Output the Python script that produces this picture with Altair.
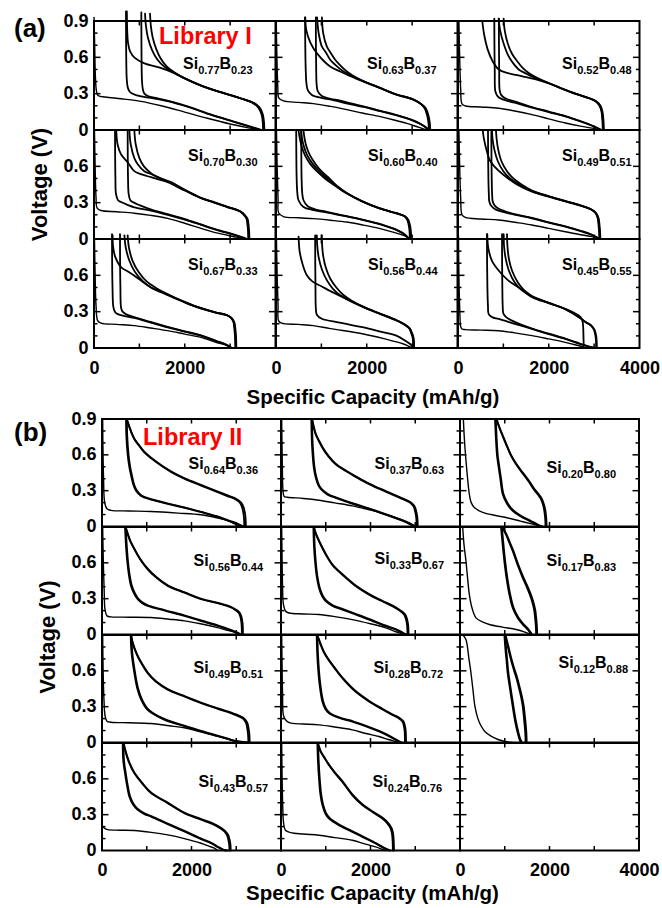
import altair as alt
import pandas as pd

# ---------------- labels / ticks ----------------
A_COMP = [("0.77", "0.23"), ("0.63", "0.37"), ("0.52", "0.48"),
          ("0.70", "0.30"), ("0.60", "0.40"), ("0.49", "0.51"),
          ("0.67", "0.33"), ("0.56", "0.44"), ("0.45", "0.55")]
B_COMP = [("0.64", "0.36"), ("0.37", "0.63"), ("0.20", "0.80"),
          ("0.56", "0.44"), ("0.33", "0.67"), ("0.17", "0.83"),
          ("0.49", "0.51"), ("0.28", "0.72"), ("0.12", "0.88"),
          ("0.43", "0.57"), ("0.24", "0.76"), None]
X_TICKS = [1000, 2000, 3000]
Y_MAJOR_TICKS = [0.3, 0.6]
Y_MINOR_TICKS = [0.1, 0.2, 0.4, 0.5, 0.7, 0.8]
X_LABELS = [0, 2000]
X_LABELS_LAST = [0, 2000, 4000]
Y_LABELS_TOP = [0, 0.3, 0.6, 0.9]
Y_LABELS = [0, 0.3, 0.6]

# ---------------- Library I curves (capacity mAh/g, voltage V) ----------------
A1 = {
    "D1": [(0, 0.93), (15, 0.7), (30, 0.45), (55, 0.32), (90, 0.285), (250, 0.272), (600, 0.258), (1000, 0.238), (1480, 0.2), (2000, 0.148), (2500, 0.097), (3000, 0.05), (3400, 0.018), (3600, 0.004), (3680, 0)],
    "D2": [(705, 0.98), (707, 0.75), (712, 0.55), (722, 0.42), (745, 0.35), (800, 0.31), (950, 0.285), (1200, 0.268), (1620, 0.238), (2060, 0.192), (2600, 0.122), (3100, 0.065), (3450, 0.025), (3650, 0.003), (3700, 0)],
    "D3": [(1043, 0.97), (1045, 0.75), (1049, 0.55), (1056, 0.42), (1075, 0.34), (1110, 0.3), (1200, 0.278), (1400, 0.262), (1620, 0.242), (2060, 0.195), (2600, 0.125), (3100, 0.068), (3450, 0.028), (3660, 0.004), (3720, 0)],
    "C1": [(3754, 0), (3748, 0.06), (3720, 0.13), (3650, 0.185), (3530, 0.222), (3240, 0.26), (2800, 0.31), (2400, 0.36), (2000, 0.425), (1770, 0.47), (1450, 0.515), (1110, 0.55), (900, 0.595), (800, 0.645), (750, 0.72), (732, 0.82), (724, 0.98)],
    "C2": [(3740, 0), (3734, 0.06), (3706, 0.13), (3636, 0.185), (3518, 0.222), (3230, 0.262), (2790, 0.312), (2390, 0.362), (1990, 0.428), (1750, 0.475), (1560, 0.52), (1400, 0.58), (1280, 0.66), (1190, 0.76), (1145, 0.86), (1125, 0.96)],
    "C3": [(3725, 0), (3720, 0.06), (3692, 0.13), (3622, 0.185), (3505, 0.222), (3220, 0.263), (2780, 0.314), (2380, 0.364), (1980, 0.43), (1760, 0.478), (1600, 0.525), (1470, 0.59), (1370, 0.67), (1290, 0.77), (1250, 0.87), (1235, 0.96)],
}
A2 = {
    "D1": [(5, 0.9), (20, 0.6), (40, 0.35), (60, 0.265), (165, 0.24), (500, 0.228), (826, 0.218), (1200, 0.195), (1561, 0.168), (1900, 0.14), (2296, 0.11), (2600, 0.083), (2883, 0.055), (3150, 0.022), (3300, 0.004), (3360, 0)],
    "D2": [(640, 0.93), (645, 0.7), (655, 0.5), (672, 0.38), (700, 0.33), (790, 0.29), (1000, 0.265), (1194, 0.252), (1500, 0.225), (1928, 0.19), (2300, 0.155), (2663, 0.12), (3000, 0.08), (3200, 0.045), (3324, 0.014), (3350, 0)],
    "D3": [(878, 0.93), (880, 0.7), (886, 0.5), (895, 0.38), (920, 0.32), (1010, 0.28), (1200, 0.258), (1414, 0.243), (1700, 0.215), (1928, 0.195), (2300, 0.158), (2663, 0.123), (3000, 0.083), (3200, 0.048), (3330, 0.015), (3370, 0)],
    "C1": [(3400, 0), (3390, 0.055), (3360, 0.12), (3300, 0.18), (3200, 0.215), (3030, 0.25), (2663, 0.29), (2300, 0.345), (1928, 0.4), (1600, 0.45), (1414, 0.483), (1194, 0.524), (900, 0.635), (760, 0.72), (670, 0.82), (645, 0.93)],
    "C2": [(3385, 0), (3376, 0.055), (3346, 0.12), (3288, 0.18), (3190, 0.217), (3020, 0.253), (2655, 0.293), (2290, 0.348), (1920, 0.404), (1650, 0.45), (1487, 0.483), (1300, 0.54), (1194, 0.58), (1100, 0.64), (1010, 0.69), (940, 0.8), (905, 0.93)],
    "C3": [(3370, 0), (3362, 0.055), (3332, 0.12), (3276, 0.18), (3180, 0.218), (3010, 0.255), (2647, 0.295), (2282, 0.35), (1912, 0.407), (1680, 0.452), (1561, 0.483), (1400, 0.54), (1304, 0.58), (1200, 0.64), (1120, 0.69), (1040, 0.8), (1012, 0.93)],
}
A3 = {
    "D1": [(20, 0.9), (40, 0.55), (60, 0.33), (88, 0.215), (162, 0.198), (500, 0.19), (896, 0.18), (1250, 0.157), (1631, 0.127), (2000, 0.092), (2365, 0.058), (2700, 0.032), (2953, 0.015), (3120, 0.003), (3170, 0)],
    "D2": [(800, 0.92), (803, 0.7), (810, 0.48), (823, 0.32), (870, 0.28), (970, 0.255), (1250, 0.225), (1631, 0.185), (2000, 0.148), (2365, 0.112), (2700, 0.07), (2953, 0.035), (3100, 0.01), (3140, 0)],
    "D3": [(900, 0.92), (903, 0.7), (908, 0.48), (918, 0.33), (950, 0.29), (1050, 0.26), (1300, 0.23), (1631, 0.19), (2000, 0.152), (2365, 0.115), (2700, 0.073), (2953, 0.037), (3110, 0.01), (3160, 0)],
    "C1": [(3215, 0), (3208, 0.07), (3185, 0.15), (3140, 0.2), (3050, 0.235), (2900, 0.26), (2500, 0.31), (2000, 0.385), (1700, 0.42), (1400, 0.445), (1100, 0.47), (900, 0.5), (760, 0.57), (650, 0.67), (580, 0.78), (535, 0.9)],
    "C2": [(3200, 0), (3193, 0.07), (3172, 0.15), (3128, 0.2), (3040, 0.237), (2890, 0.262), (2490, 0.313), (1990, 0.388), (1700, 0.43), (1480, 0.47), (1337, 0.5), (1200, 0.56), (1100, 0.62), (1000, 0.72), (930, 0.82), (896, 0.92)],
    "C3": [(3190, 0), (3184, 0.07), (3163, 0.15), (3120, 0.2), (3032, 0.238), (2882, 0.264), (2482, 0.315), (1985, 0.39), (1720, 0.435), (1560, 0.47), (1430, 0.51), (1300, 0.57), (1190, 0.63), (1100, 0.71), (1030, 0.82), (1006, 0.92)],
}
A4 = {
    "D1": [(10, 0.9), (25, 0.6), (44, 0.35), (70, 0.255), (154, 0.235), (500, 0.225), (889, 0.213), (1250, 0.195), (1623, 0.17), (2000, 0.13), (2358, 0.088), (2700, 0.05), (3093, 0.019), (3300, 0.004), (3386, 0)],
    "D2": [(463, 0.9), (466, 0.7), (472, 0.5), (485, 0.37), (530, 0.32), (595, 0.305), (750, 0.28), (889, 0.262), (1250, 0.235), (1623, 0.2), (2000, 0.16), (2358, 0.117), (2700, 0.075), (3093, 0.033), (3300, 0.008), (3350, 0)],
    "D3": [(742, 0.9), (744, 0.7), (750, 0.5), (764, 0.37), (800, 0.32), (852, 0.305), (1000, 0.28), (1250, 0.245), (1623, 0.205), (2000, 0.165), (2358, 0.12), (2700, 0.078), (3093, 0.036), (3310, 0.009), (3370, 0)],
    "C1": [(3425, 0), (3420, 0.06), (3405, 0.12), (3386, 0.165), (3320, 0.2), (3240, 0.225), (3100, 0.245), (2946, 0.262), (2650, 0.3), (2358, 0.337), (2000, 0.4), (1623, 0.47), (1256, 0.51), (1000, 0.54), (889, 0.56), (750, 0.63), (595, 0.7), (520, 0.78), (490, 0.9)],
    "C2": [(3410, 0), (3405, 0.06), (3390, 0.12), (3372, 0.165), (3308, 0.2), (3230, 0.227), (3090, 0.248), (2936, 0.265), (2640, 0.303), (2350, 0.34), (1990, 0.405), (1623, 0.475), (1300, 0.53), (1109, 0.56), (960, 0.62), (889, 0.668), (810, 0.78), (779, 0.9)],
    "C3": [(3400, 0), (3396, 0.06), (3381, 0.12), (3363, 0.165), (3298, 0.2), (3220, 0.228), (3080, 0.25), (2928, 0.268), (2632, 0.306), (2342, 0.343), (1985, 0.41), (1700, 0.47), (1400, 0.51), (1256, 0.544), (1100, 0.6), (1000, 0.668), (920, 0.78), (889, 0.9)],
}
A5 = {
    "D1": [(10, 0.9), (25, 0.6), (45, 0.33), (60, 0.215), (165, 0.185), (500, 0.175), (826, 0.168), (1200, 0.155), (1561, 0.14), (1928, 0.115), (2296, 0.086), (2600, 0.055), (2810, 0.03), (2930, 0.008), (2957, 0)],
    "D2": [(445, 0.9), (448, 0.7), (455, 0.5), (470, 0.38), (496, 0.32), (606, 0.265), (800, 0.24), (1047, 0.224), (1500, 0.19), (1928, 0.155), (2300, 0.12), (2663, 0.072), (2850, 0.03), (2920, 0)],
    "D3": [(555, 0.9), (558, 0.7), (564, 0.5), (578, 0.38), (606, 0.32), (700, 0.27), (900, 0.24), (1100, 0.226), (1500, 0.193), (1928, 0.158), (2300, 0.123), (2663, 0.075), (2860, 0.032), (2940, 0)],
    "C1": [(2980, 0), (2975, 0.05), (2960, 0.1), (2920, 0.155), (2850, 0.185), (2663, 0.21), (2296, 0.25), (1900, 0.31), (1561, 0.375), (1300, 0.44), (1047, 0.51), (900, 0.56), (753, 0.62), (640, 0.69), (570, 0.76), (520, 0.84), (496, 0.9)],
    "C2": [(2965, 0), (2960, 0.05), (2946, 0.1), (2906, 0.157), (2838, 0.188), (2652, 0.213), (2285, 0.253), (1890, 0.313), (1561, 0.378), (1320, 0.44), (1100, 0.51), (950, 0.56), (810, 0.62), (690, 0.69), (610, 0.77), (570, 0.84), (555, 0.9)],
    "C3": [(2950, 0), (2945, 0.05), (2932, 0.1), (2892, 0.158), (2825, 0.19), (2640, 0.215), (2275, 0.255), (1880, 0.315), (1561, 0.38), (1340, 0.44), (1150, 0.51), (1000, 0.56), (870, 0.62), (750, 0.69), (665, 0.77), (625, 0.84), (606, 0.9)],
}
A6 = {
    "D1": [(20, 0.9), (40, 0.55), (60, 0.33), (88, 0.2), (162, 0.178), (500, 0.165), (896, 0.157), (1250, 0.138), (1631, 0.116), (2000, 0.088), (2365, 0.06), (2700, 0.035), (2953, 0.019), (3040, 0.005), (3063, 0)],
    "D2": [(661, 0.9), (664, 0.7), (670, 0.5), (680, 0.37), (690, 0.31), (740, 0.27), (823, 0.245), (1200, 0.205), (1631, 0.171), (2000, 0.135), (2365, 0.102), (2700, 0.065), (2953, 0.033), (3080, 0.008), (3100, 0)],
    "D3": [(735, 0.9), (737, 0.7), (743, 0.5), (752, 0.37), (765, 0.31), (810, 0.275), (900, 0.25), (1200, 0.21), (1631, 0.175), (2000, 0.138), (2365, 0.105), (2700, 0.068), (2953, 0.035), (3090, 0.008), (3120, 0)],
    "C1": [(3137, 0), (3133, 0.05), (3120, 0.11), (3100, 0.17), (3050, 0.21), (2953, 0.24), (2700, 0.275), (2365, 0.31), (2000, 0.35), (1631, 0.39), (1300, 0.45), (1000, 0.53), (800, 0.6), (700, 0.65), (639, 0.72), (575, 0.82), (544, 0.9)],
    "C2": [(3125, 0), (3121, 0.05), (3108, 0.11), (3088, 0.172), (3040, 0.213), (2943, 0.243), (2690, 0.278), (2355, 0.313), (1990, 0.353), (1631, 0.395), (1350, 0.45), (1150, 0.5), (1000, 0.56), (880, 0.64), (800, 0.74), (760, 0.83), (749, 0.9)],
    "C3": [(3115, 0), (3111, 0.05), (3098, 0.11), (3078, 0.173), (3030, 0.215), (2933, 0.245), (2680, 0.28), (2345, 0.316), (1980, 0.356), (1631, 0.4), (1400, 0.45), (1220, 0.5), (1080, 0.56), (960, 0.64), (885, 0.74), (850, 0.83), (837, 0.9)],
}
A7 = {
    "D1": [(10, 0.9), (25, 0.6), (45, 0.35), (81, 0.226), (154, 0.205), (500, 0.195), (889, 0.185), (1250, 0.165), (1623, 0.143), (2000, 0.115), (2358, 0.088), (2700, 0.045), (2946, 0.019), (3000, 0.005), (3019, 0)],
    "D2": [(397, 0.94), (400, 0.7), (408, 0.5), (426, 0.34), (460, 0.3), (522, 0.28), (700, 0.262), (889, 0.248), (1250, 0.21), (1623, 0.171), (2000, 0.135), (2358, 0.102), (2700, 0.055), (2872, 0.033), (2980, 0.01), (3019, 0)],
    "D3": [(573, 0.94), (575, 0.7), (582, 0.5), (598, 0.33), (630, 0.3), (700, 0.28), (889, 0.255), (1250, 0.215), (1623, 0.175), (2000, 0.138), (2358, 0.105), (2700, 0.058), (2880, 0.034), (3000, 0.01), (3040, 0)],
    "C1": [(3137, 0), (3134, 0.05), (3130, 0.09), (3118, 0.15), (3093, 0.212), (3040, 0.245), (2946, 0.268), (2700, 0.29), (2504, 0.31), (2250, 0.34), (1990, 0.378), (1600, 0.44), (1256, 0.5), (1036, 0.557), (800, 0.62), (595, 0.668), (470, 0.75), (420, 0.84), (410, 0.93)],
    "C2": [(3125, 0), (3122, 0.05), (3118, 0.09), (3106, 0.15), (3082, 0.214), (3030, 0.247), (2936, 0.27), (2690, 0.293), (2494, 0.313), (2240, 0.343), (1980, 0.382), (1600, 0.445), (1256, 0.5), (1080, 0.55), (900, 0.63), (780, 0.72), (700, 0.83), (670, 0.93)],
    "C3": [(3115, 0), (3112, 0.05), (3108, 0.09), (3096, 0.15), (3072, 0.215), (3020, 0.248), (2926, 0.272), (2680, 0.295), (2484, 0.315), (2230, 0.345), (1970, 0.385), (1650, 0.44), (1350, 0.5), (1160, 0.55), (980, 0.63), (850, 0.72), (770, 0.83), (742, 0.93)],
}
A8 = {
    "D1": [(10, 0.9), (25, 0.6), (45, 0.35), (55, 0.226), (120, 0.205), (500, 0.195), (826, 0.185), (1200, 0.16), (1928, 0.116), (2400, 0.075), (2810, 0.033), (2960, 0.008), (2994, 0)],
    "D2": [(863, 0.93), (865, 0.7), (870, 0.5), (878, 0.33), (900, 0.275), (1010, 0.242), (1400, 0.21), (1928, 0.17), (2300, 0.135), (2663, 0.1), (2850, 0.06), (2957, 0.033), (3010, 0.008), (3030, 0)],
    "C1": [(3045, 0), (3042, 0.04), (3030, 0.088), (2990, 0.13), (2957, 0.157), (2850, 0.19), (2663, 0.226), (2300, 0.28), (1928, 0.337), (1650, 0.385), (1414, 0.43), (1200, 0.47), (1000, 0.51), (800, 0.55), (680, 0.6), (580, 0.7), (520, 0.8), (498, 0.92)],
    "C2": [(3035, 0), (3032, 0.04), (3020, 0.088), (2980, 0.132), (2947, 0.16), (2840, 0.193), (2653, 0.229), (2290, 0.283), (1918, 0.34), (1640, 0.39), (1414, 0.435), (1250, 0.49), (1120, 0.56), (1010, 0.65), (940, 0.75), (908, 0.85), (900, 0.93)],
    "C3": [(3025, 0), (3022, 0.04), (3010, 0.088), (2970, 0.133), (2937, 0.162), (2830, 0.195), (2643, 0.231), (2280, 0.286), (1910, 0.344), (1660, 0.393), (1480, 0.44), (1330, 0.5), (1200, 0.57), (1100, 0.66), (1040, 0.76), (1015, 0.86), (1010, 0.93)],
}
A9 = {
    "D1": [(10, 0.93), (20, 0.6), (40, 0.3), (60, 0.175), (88, 0.157), (162, 0.152), (500, 0.148), (896, 0.143), (1250, 0.125), (1631, 0.102), (2000, 0.075), (2365, 0.047), (2600, 0.025), (2740, 0.01), (2770, 0)],
    "D2": [(639, 0.94), (641, 0.7), (648, 0.5), (660, 0.35), (676, 0.28), (750, 0.255), (896, 0.24), (1250, 0.2), (1631, 0.157), (2000, 0.115), (2365, 0.075), (2600, 0.045), (2806, 0.019), (2950, 0.005), (3026, 0)],
    "D3": [(970, 0.94), (972, 0.7), (977, 0.5), (985, 0.35), (1000, 0.285), (1060, 0.255), (1190, 0.226), (1631, 0.16), (2000, 0.118), (2365, 0.078), (2600, 0.048), (2806, 0.021), (2960, 0.005), (3040, 0)],
    "C1": [(2770, 0), (2768, 0.05), (2765, 0.1), (2760, 0.16), (2745, 0.22), (2700, 0.255), (2659, 0.268), (2365, 0.323), (2000, 0.37), (1631, 0.42), (1337, 0.5), (1100, 0.56), (896, 0.64), (749, 0.72), (670, 0.82), (645, 0.94)],
    "C2": [(3060, 0), (3057, 0.05), (3045, 0.1), (3010, 0.15), (2940, 0.185), (2806, 0.215), (2700, 0.245), (2365, 0.32), (2000, 0.372), (1631, 0.425), (1400, 0.48), (1250, 0.54), (1120, 0.64), (1050, 0.74), (1015, 0.84), (1006, 0.94)],
    "C3": [(3045, 0), (3042, 0.05), (3030, 0.1), (2995, 0.152), (2925, 0.188), (2796, 0.218), (2690, 0.248), (2355, 0.323), (1990, 0.375), (1631, 0.43), (1450, 0.48), (1320, 0.54), (1190, 0.64), (1120, 0.74), (1090, 0.84), (1080, 0.94)],
}

# ---------------- Library II curves ----------------
B1 = {
    "D1": [(15, 0.9), (20, 0.7), (35, 0.4), (60, 0.2), (112, 0.148), (200, 0.135), (600, 0.13), (1095, 0.125), (1700, 0.112), (2213, 0.098), (2600, 0.07), (2809, 0.05), (2950, 0.025), (3069, 0.008), (3100, 0)],
    "D2": [(536, 0.9), (545, 0.75), (574, 0.6), (610, 0.5), (648, 0.43), (700, 0.35), (760, 0.3), (872, 0.256), (1100, 0.225), (1468, 0.19), (1850, 0.155), (2213, 0.12), (2550, 0.085), (2809, 0.05), (2990, 0.025), (3080, 0.008), (3120, 0)],
    "D3": [(556, 0.9), (565, 0.75), (594, 0.6), (630, 0.5), (668, 0.43), (720, 0.35), (780, 0.302), (892, 0.258), (1120, 0.227), (1480, 0.192), (1860, 0.157), (2223, 0.122), (2560, 0.087), (2820, 0.052), (3010, 0.027), (3120, 0.008), (3165, 0)],
    "C1": [(3180, 0), (3176, 0.05), (3165, 0.1), (3130, 0.16), (3080, 0.2), (2958, 0.232), (2800, 0.255), (2585, 0.287), (2200, 0.345), (1840, 0.4), (1550, 0.455), (1319, 0.51), (1100, 0.57), (946, 0.62), (820, 0.68), (723, 0.73), (640, 0.8), (574, 0.87), (548, 0.9)],
    "C2": [(3215, 0), (3211, 0.05), (3200, 0.1), (3165, 0.16), (3110, 0.2), (2985, 0.234), (2825, 0.258), (2605, 0.29), (2215, 0.348), (1850, 0.403), (1560, 0.458), (1327, 0.513), (1106, 0.573), (950, 0.624), (824, 0.684), (727, 0.734), (645, 0.804), (580, 0.872), (556, 0.9)],
}
B2 = {
    "D1": [(15, 0.9), (20, 0.75), (30, 0.5), (45, 0.3), (70, 0.252), (142, 0.245), (500, 0.235), (849, 0.22), (1200, 0.198), (1594, 0.173), (1967, 0.14), (2339, 0.103), (2600, 0.07), (2861, 0.033), (2960, 0.01), (3010, 0)],
    "D2": [(678, 0.9), (685, 0.75), (700, 0.632), (730, 0.5), (775, 0.41), (840, 0.34), (924, 0.3), (1050, 0.265), (1222, 0.24), (1600, 0.19), (1967, 0.148), (2350, 0.098), (2712, 0.048), (2900, 0.015), (2973, 0)],
    "D3": [(695, 0.9), (702, 0.75), (718, 0.632), (748, 0.5), (793, 0.41), (858, 0.34), (942, 0.302), (1068, 0.268), (1240, 0.243), (1615, 0.193), (1980, 0.15), (2360, 0.1), (2722, 0.05), (2920, 0.016), (3000, 0)],
    "C1": [(3030, 0), (3028, 0.04), (3020, 0.08), (2995, 0.13), (2960, 0.17), (2880, 0.2), (2712, 0.23), (2350, 0.29), (1967, 0.355), (1600, 0.43), (1222, 0.52), (1050, 0.59), (924, 0.66), (840, 0.72), (775, 0.77), (730, 0.83), (700, 0.88), (690, 0.9)],
    "C2": [(3055, 0), (3053, 0.04), (3045, 0.08), (3020, 0.13), (2985, 0.17), (2905, 0.202), (2730, 0.233), (2365, 0.293), (1980, 0.358), (1610, 0.433), (1230, 0.523), (1058, 0.593), (930, 0.663), (845, 0.723), (780, 0.773), (735, 0.833), (706, 0.883), (698, 0.9)],
}
B3 = {
    "D1": [(75, 0.9), (100, 0.72), (134, 0.55), (170, 0.4), (209, 0.27), (250, 0.2), (320, 0.16), (507, 0.118), (800, 0.092), (1028, 0.075), (1350, 0.045), (1624, 0.02), (1780, 0.005), (1848, 0)],
    "D2": [(782, 0.9), (800, 0.75), (825, 0.6), (842, 0.55), (900, 0.4), (954, 0.27), (1050, 0.19), (1177, 0.131), (1350, 0.085), (1550, 0.047), (1720, 0.015), (1810, 0)],
    "D3": [(800, 0.9), (818, 0.75), (843, 0.6), (860, 0.55), (918, 0.4), (972, 0.272), (1068, 0.193), (1195, 0.134), (1368, 0.088), (1568, 0.05), (1740, 0.017), (1835, 0)],
    "C1": [(1910, 0), (1908, 0.04), (1900, 0.08), (1880, 0.14), (1848, 0.19), (1800, 0.235), (1736, 0.27), (1650, 0.31), (1550, 0.368), (1400, 0.445), (1252, 0.521), (1130, 0.6), (1028, 0.688), (950, 0.76), (879, 0.827), (830, 0.88), (815, 0.9)],
    "C2": [(1935, 0), (1933, 0.04), (1925, 0.08), (1905, 0.14), (1872, 0.19), (1822, 0.237), (1756, 0.272), (1668, 0.312), (1565, 0.37), (1412, 0.447), (1262, 0.523), (1138, 0.602), (1035, 0.69), (956, 0.762), (884, 0.829), (836, 0.882), (822, 0.9)],
}
B4 = {
    "D1": [(15, 0.9), (30, 0.6), (50, 0.35), (67, 0.21), (112, 0.156), (200, 0.148), (600, 0.145), (1095, 0.142), (1500, 0.128), (1840, 0.114), (2200, 0.09), (2585, 0.058), (2800, 0.035), (2958, 0.022), (3050, 0.005), (3069, 0)],
    "D2": [(514, 0.9), (530, 0.78), (559, 0.63), (600, 0.5), (648, 0.407), (720, 0.34), (797, 0.295), (900, 0.262), (1020, 0.24), (1400, 0.2), (1840, 0.156), (2200, 0.115), (2585, 0.072), (2800, 0.045), (2958, 0.022), (3050, 0.005), (3080, 0)],
    "D3": [(532, 0.9), (548, 0.78), (577, 0.63), (618, 0.5), (666, 0.41), (738, 0.343), (815, 0.298), (918, 0.265), (1038, 0.243), (1418, 0.203), (1855, 0.159), (2215, 0.118), (2600, 0.075), (2815, 0.048), (2975, 0.024), (3080, 0.006), (3110, 0)],
    "C1": [(3125, 0), (3123, 0.05), (3115, 0.1), (3090, 0.15), (3047, 0.184), (2960, 0.21), (2883, 0.226), (2600, 0.26), (2213, 0.295), (1840, 0.35), (1468, 0.407), (1200, 0.48), (1020, 0.546), (850, 0.63), (723, 0.713), (620, 0.79), (574, 0.839), (530, 0.89)],
    "C2": [(3150, 0), (3148, 0.05), (3140, 0.1), (3115, 0.15), (3070, 0.186), (2980, 0.212), (2900, 0.228), (2615, 0.262), (2225, 0.298), (1850, 0.353), (1478, 0.41), (1208, 0.483), (1027, 0.549), (856, 0.633), (728, 0.716), (625, 0.793), (580, 0.842), (538, 0.89)],
}
B5 = {
    "D1": [(15, 0.9), (22, 0.7), (35, 0.4), (55, 0.25), (104, 0.195), (179, 0.18), (500, 0.172), (849, 0.167), (1200, 0.15), (1594, 0.125), (2000, 0.09), (2339, 0.056), (2550, 0.025), (2712, 0.006), (2749, 0)],
    "D2": [(723, 0.9), (735, 0.75), (760, 0.613), (800, 0.48), (849, 0.39), (920, 0.32), (998, 0.28), (1150, 0.24), (1371, 0.209), (1650, 0.17), (1967, 0.125), (2300, 0.075), (2563, 0.042), (2720, 0.012), (2786, 0)],
    "D3": [(740, 0.9), (752, 0.75), (777, 0.613), (817, 0.48), (866, 0.392), (937, 0.323), (1015, 0.283), (1168, 0.243), (1388, 0.212), (1665, 0.173), (1980, 0.128), (2312, 0.078), (2575, 0.044), (2735, 0.013), (2810, 0)],
    "C1": [(2825, 0), (2823, 0.04), (2815, 0.084), (2790, 0.13), (2749, 0.167), (2650, 0.2), (2488, 0.237), (2250, 0.28), (1967, 0.334), (1650, 0.41), (1371, 0.5), (1150, 0.58), (998, 0.67), (900, 0.74), (812, 0.81), (760, 0.86), (738, 0.89)],
    "C2": [(2850, 0), (2848, 0.04), (2840, 0.084), (2815, 0.132), (2772, 0.169), (2670, 0.202), (2505, 0.24), (2265, 0.283), (1980, 0.337), (1662, 0.413), (1380, 0.503), (1158, 0.583), (1005, 0.673), (906, 0.743), (818, 0.813), (766, 0.862), (745, 0.89)],
}
B6 = {
    "D1": [(60, 0.9), (90, 0.75), (134, 0.613), (170, 0.47), (209, 0.334), (270, 0.22), (358, 0.139), (500, 0.105), (656, 0.084), (950, 0.062), (1252, 0.042), (1450, 0.02), (1587, 0)],
    "D2": [(916, 0.9), (940, 0.8), (991, 0.613), (1040, 0.47), (1103, 0.334), (1180, 0.22), (1289, 0.139), (1400, 0.085), (1512, 0.042), (1570, 0.012), (1587, 0)],
    "D3": [(936, 0.9), (960, 0.8), (1010, 0.613), (1060, 0.47), (1122, 0.336), (1198, 0.223), (1305, 0.142), (1418, 0.088), (1530, 0.044), (1590, 0.013), (1610, 0)],
    "C1": [(1700, 0), (1698, 0.04), (1690, 0.09), (1675, 0.15), (1661, 0.195), (1630, 0.25), (1587, 0.306), (1500, 0.39), (1401, 0.474), (1290, 0.58), (1177, 0.7), (1100, 0.77), (1028, 0.836), (970, 0.88), (954, 0.9)],
    "C2": [(1725, 0), (1723, 0.04), (1715, 0.09), (1700, 0.15), (1686, 0.197), (1654, 0.252), (1610, 0.308), (1522, 0.392), (1420, 0.476), (1306, 0.582), (1192, 0.702), (1114, 0.772), (1040, 0.838), (980, 0.882), (963, 0.9)],
}
B7 = {
    "D1": [(15, 0.9), (25, 0.6), (45, 0.35), (70, 0.22), (112, 0.178), (200, 0.17), (600, 0.165), (1095, 0.159), (1500, 0.14), (1840, 0.123), (2200, 0.09), (2585, 0.053), (2800, 0.03), (2958, 0.011), (2995, 0)],
    "D2": [(640, 0.9), (660, 0.75), (723, 0.58), (790, 0.45), (872, 0.36), (980, 0.29), (1095, 0.25), (1400, 0.19), (1840, 0.137), (2200, 0.095), (2585, 0.053), (2800, 0.03), (2958, 0.013), (3150, 0.003), (3230, 0)],
    "D3": [(658, 0.9), (678, 0.75), (741, 0.58), (808, 0.452), (890, 0.363), (998, 0.293), (1113, 0.253), (1418, 0.193), (1855, 0.14), (2215, 0.098), (2600, 0.056), (2815, 0.032), (2975, 0.014), (3180, 0.003), (3265, 0)],
    "C1": [(3270, 0), (3268, 0.04), (3260, 0.08), (3240, 0.13), (3218, 0.164), (3150, 0.2), (2958, 0.234), (2600, 0.28), (2213, 0.33), (1840, 0.385), (1468, 0.443), (1200, 0.51), (1020, 0.58), (900, 0.65), (797, 0.72), (720, 0.79), (663, 0.86), (645, 0.9)],
    "C2": [(3300, 0), (3298, 0.04), (3290, 0.08), (3270, 0.13), (3246, 0.166), (3175, 0.202), (2980, 0.237), (2615, 0.283), (2225, 0.333), (1850, 0.388), (1478, 0.446), (1208, 0.513), (1027, 0.583), (906, 0.653), (803, 0.723), (726, 0.793), (669, 0.862), (652, 0.9)],
}
B8 = {
    "D1": [(15, 0.9), (22, 0.7), (35, 0.4), (60, 0.22), (142, 0.175), (253, 0.16), (500, 0.155), (849, 0.148), (1200, 0.13), (1594, 0.106), (1900, 0.075), (2190, 0.05), (2400, 0.025), (2563, 0.008), (2637, 0)],
    "D2": [(797, 0.9), (808, 0.75), (834, 0.59), (870, 0.46), (924, 0.343), (990, 0.28), (1073, 0.245), (1300, 0.205), (1594, 0.175), (1900, 0.135), (2190, 0.092), (2400, 0.055), (2563, 0.022), (2640, 0.005), (2675, 0)],
    "D3": [(815, 0.9), (826, 0.75), (852, 0.59), (888, 0.462), (942, 0.346), (1008, 0.283), (1091, 0.248), (1318, 0.208), (1610, 0.178), (1915, 0.138), (2205, 0.095), (2415, 0.058), (2578, 0.024), (2660, 0.006), (2700, 0)],
    "C1": [(2770, 0), (2768, 0.04), (2764, 0.092), (2745, 0.14), (2712, 0.175), (2620, 0.205), (2488, 0.23), (2250, 0.28), (1967, 0.343), (1650, 0.43), (1371, 0.538), (1200, 0.62), (1036, 0.705), (950, 0.76), (887, 0.816), (835, 0.87), (812, 0.886)],
    "C2": [(2795, 0), (2793, 0.04), (2788, 0.092), (2768, 0.142), (2735, 0.177), (2642, 0.207), (2508, 0.233), (2265, 0.283), (1980, 0.346), (1662, 0.433), (1380, 0.541), (1208, 0.623), (1043, 0.708), (956, 0.763), (892, 0.819), (840, 0.872), (818, 0.889)],
}
B9 = {
    "D1": [(67, 0.9), (134, 0.86), (200, 0.7), (246, 0.58), (290, 0.44), (335, 0.3), (400, 0.2), (469, 0.14), (560, 0.09), (693, 0.053), (850, 0.025), (991, 0.011), (1100, 0.003), (1177, 0)],
    "D2": [(991, 0.9), (1010, 0.8), (1040, 0.68), (1065, 0.58), (1120, 0.44), (1177, 0.3), (1230, 0.18), (1289, 0.08), (1330, 0.025), (1363, 0)],
    "D3": [(1010, 0.9), (1028, 0.8), (1058, 0.68), (1083, 0.58), (1138, 0.44), (1195, 0.302), (1248, 0.182), (1307, 0.082), (1350, 0.026), (1385, 0)],
    "C1": [(1465, 0), (1462, 0.05), (1453, 0.109), (1430, 0.2), (1401, 0.304), (1365, 0.38), (1326, 0.443), (1260, 0.54), (1177, 0.64), (1120, 0.72), (1065, 0.808), (1030, 0.86), (1010, 0.9)],
    "C2": [(1490, 0), (1487, 0.05), (1478, 0.111), (1455, 0.202), (1424, 0.306), (1386, 0.382), (1345, 0.446), (1278, 0.543), (1193, 0.643), (1135, 0.723), (1079, 0.81), (1043, 0.862), (1022, 0.9)],
}
B10 = {
    "D1": [(0, 0.21), (20, 0.2), (60, 0.185), (127, 0.175), (400, 0.17), (723, 0.167), (1100, 0.152), (1468, 0.131), (1840, 0.1), (2213, 0.061), (2400, 0.035), (2511, 0.02), (2585, 0)],
    "D2": [(462, 0.9), (475, 0.75), (514, 0.646), (560, 0.54), (611, 0.45), (700, 0.38), (797, 0.34), (950, 0.305), (1095, 0.284), (1468, 0.22), (1840, 0.159), (2213, 0.095), (2436, 0.061), (2600, 0.025), (2700, 0.005), (2760, 0)],
    "D3": [(480, 0.9), (493, 0.75), (532, 0.646), (578, 0.54), (629, 0.452), (718, 0.383), (815, 0.343), (968, 0.308), (1113, 0.287), (1483, 0.223), (1855, 0.162), (2228, 0.098), (2450, 0.063), (2615, 0.027), (2720, 0.006), (2800, 0)],
    "C1": [(2846, 0), (2844, 0.04), (2823, 0.09), (2790, 0.13), (2734, 0.159), (2650, 0.185), (2511, 0.215), (2200, 0.26), (1840, 0.312), (1450, 0.4), (1095, 0.48), (900, 0.56), (723, 0.646), (600, 0.74), (536, 0.813), (495, 0.87), (484, 0.9)],
    "C2": [(2875, 0), (2873, 0.04), (2852, 0.09), (2818, 0.132), (2760, 0.161), (2674, 0.187), (2530, 0.218), (2215, 0.263), (1852, 0.315), (1460, 0.403), (1103, 0.483), (908, 0.563), (730, 0.649), (606, 0.743), (542, 0.816), (502, 0.872), (492, 0.9)],
}
B11 = {
    "D1": [(15, 0.9), (25, 0.6), (40, 0.35), (55, 0.24), (100, 0.17), (216, 0.15), (500, 0.138), (849, 0.128), (1200, 0.108), (1594, 0.086), (1850, 0.058), (2116, 0.03), (2260, 0.01), (2339, 0)],
    "D2": [(812, 0.9), (825, 0.75), (849, 0.6), (880, 0.47), (924, 0.38), (990, 0.31), (1073, 0.267), (1300, 0.21), (1594, 0.156), (1850, 0.108), (2116, 0.058), (2300, 0.02), (2414, 0)],
    "D3": [(830, 0.9), (843, 0.75), (867, 0.6), (898, 0.472), (942, 0.383), (1008, 0.313), (1091, 0.27), (1318, 0.213), (1610, 0.159), (1865, 0.111), (2130, 0.06), (2315, 0.021), (2440, 0)],
    "C1": [(2500, 0), (2498, 0.04), (2493, 0.086), (2480, 0.14), (2451, 0.184), (2380, 0.225), (2265, 0.267), (2050, 0.32), (1818, 0.38), (1600, 0.46), (1371, 0.574), (1200, 0.65), (1073, 0.713), (960, 0.78), (887, 0.825), (845, 0.87), (830, 0.885)],
    "C2": [(2525, 0), (2523, 0.04), (2518, 0.088), (2505, 0.142), (2475, 0.186), (2402, 0.227), (2285, 0.27), (2068, 0.323), (1832, 0.383), (1612, 0.463), (1381, 0.577), (1208, 0.653), (1080, 0.716), (966, 0.783), (892, 0.828), (850, 0.872), (836, 0.888)],
}

A_PANELS = [A1, A2, A3, A4, A5, A6, A7, A8, A9]
B_PANELS = [B1, B2, B3, B4, B5, B6, B7, B8, B9, B10, B11, None]

# ---------------- layout / style ----------------
WA, HA = 181.5, 109.0
WB, HB = 179.0, 107.5
B_SHIFT = 8
FONT = "Liberation Sans"
TICK_FS = 18
MAIN_FS, SUB_FS, SUB_DY = 16, 11, 4.5
W_SI = 0.945 * MAIN_FS
W_B = 0.722 * MAIN_FS
W_SUB = 1.946 * SUB_FS
DUMMY = pd.DataFrame({"k": [0]})

A_MARGIN = [[23, 21, 8], [18, 20, 8], [18, 20, 8]]
A_BASE = [[48, 48, 48], [31, 31, 31], [31, 31, 31]]
B_MARGIN = [[23, 16, 23], [18, 16, 23], [18, 17, 11], [13, 18, 0]]
B_BASE = [[50, 50, 54], [39, 37, 39], [38, 38, 33], [44, 44, 0]]


def curves_df(panel):
    rows = []
    for name, pts in panel.items():
        for i, (c, v) in enumerate(pts):
            rows.append({"curve": name, "i": i, "cap": c, "v": v,
                         "w": 1.4 if name == "D1" else 1.8})
    return pd.DataFrame(rows)


def axis_x(values):
    return alt.Axis(values=values, format="d", title=None, grid=False, domain=False,
                    ticks=False, labelFont=FONT, labelFontWeight="bold", labelFontSize=TICK_FS,
                    labelColor="black", labelPadding=11, labelFlush=False, labelOverlap=False)


def axis_y(values):
    return alt.Axis(values=values, format="~g", title=None, grid=False, domain=False,
                    ticks=False, labelFont=FONT, labelFontWeight="bold", labelFontSize=TICK_FS,
                    labelColor="black", labelPadding=6, labelFlush=False, labelOverlap=False)


def text_layer(txt, x, y, size, color="black", align="left", angle=None):
    kw = dict(text=txt, align=align, baseline="alphabetic", font=FONT,
              fontWeight="bold", fontSize=size, color=color)
    if angle is not None:
        kw["angle"] = angle
    return alt.Chart(DUMMY).mark_text(**kw).encode(x=alt.value(x), y=alt.value(y))


def anchor(x, y):
    # invisible point that fixes the outer bounds of a section
    return alt.Chart(DUMMY).mark_rule(strokeOpacity=0, strokeWidth=0.1).encode(
        x=alt.value(x), x2=alt.value(x + 0.5), y=alt.value(y), y2=alt.value(y + 0.5))


def make_panel(panel, W, H, comp, margin, base, ylabels, xlabels, extras=()):
    xs = alt.Scale(domain=[0, 4000], nice=False, zero=False)
    ys = alt.Scale(domain=[0, 0.9], nice=False, zero=False)
    xax = axis_x(xlabels) if xlabels else None
    yax = axis_y(ylabels) if ylabels else None
    layers = []
    xt = pd.DataFrame({"t": X_TICKS})
    ymaj = pd.DataFrame({"t": Y_MAJOR_TICKS})
    ymin = pd.DataFrame({"t": Y_MINOR_TICKS})
    rule = dict(color="black", strokeWidth=1.5)
    layers.append(alt.Chart(xt).mark_rule(**rule).encode(
        x=alt.X("t:Q", scale=xs, axis=xax), y=alt.value(H), y2=alt.value(H - 4.5)))
    layers.append(alt.Chart(xt).mark_rule(**rule).encode(
        x=alt.X("t:Q", scale=xs, axis=xax), y=alt.value(0), y2=alt.value(4.5)))
    layers.append(alt.Chart(ymaj).mark_rule(**rule).encode(
        y=alt.Y("t:Q", scale=ys, axis=yax), x=alt.value(0), x2=alt.value(6.5)))
    layers.append(alt.Chart(ymaj).mark_rule(**rule).encode(
        y=alt.Y("t:Q", scale=ys, axis=yax), x=alt.value(W), x2=alt.value(W - 6.5)))
    layers.append(alt.Chart(ymin).mark_rule(**rule).encode(
        y=alt.Y("t:Q", scale=ys, axis=yax), x=alt.value(0), x2=alt.value(3.5)))
    layers.append(alt.Chart(ymin).mark_rule(**rule).encode(
        y=alt.Y("t:Q", scale=ys, axis=yax), x=alt.value(W), x2=alt.value(W - 3.5)))
    if panel:
        layers.append(alt.Chart(curves_df(panel)).mark_line(
            color="black", interpolate="catmull-rom", strokeJoin="round", strokeCap="round"
        ).encode(
            x=alt.X("cap:Q", scale=xs, axis=xax),
            y=alt.Y("v:Q", scale=ys, axis=yax),
            detail="curve:N", order="i:Q",
            strokeWidth=alt.StrokeWidth("w:Q", scale=None)))
    if comp:
        a, b = comp
        x0 = W - margin - (W_SI + W_B + 2 * W_SUB)
        layers.append(text_layer("Si", x0, base, MAIN_FS))
        layers.append(text_layer(a, x0 + W_SI, base + SUB_DY, SUB_FS))
        layers.append(text_layer("B", x0 + W_SI + W_SUB, base, MAIN_FS))
        layers.append(text_layer(b, x0 + W_SI + W_SUB + W_B, base + SUB_DY, SUB_FS))
    layers.extend(extras)
    return alt.layer(*layers).properties(width=W, height=H)


# ---------------- section (a) ----------------
panels_a = []
for r in range(3):
    for c in range(3):
        idx = 3 * r + c
        extras = []
        if idx == 0:
            extras = [anchor(-93, -20),
                      text_layer("(a)", -80, 16, 26),
                      text_layer("Library I", 65, 23, 23.5, color="#ff0000")]
        if idx == 3:
            extras = [text_layer("Voltage (V)", -47, HA / 2, 22, align="center", angle=270)]
        if idx == 6:
            extras = [anchor(-93, 171)]
        if idx == 7:
            extras = [text_layer("Specific Capacity (mAh/g)", 97, 165, 20.5, align="center")]
        ylab = (Y_LABELS_TOP if r == 0 else Y_LABELS) if c == 0 else None
        xlab = (X_LABELS_LAST if c == 2 else X_LABELS) if r == 2 else None
        panels_a.append(make_panel(A_PANELS[idx], WA, HA, A_COMP[idx], A_MARGIN[r][c],
                                   A_BASE[r][c], ylab, xlab, extras))
grid_a = alt.concat(*panels_a, columns=3, spacing=0, bounds="flush")

# ---------------- section (b) ----------------
def spacer():
    return alt.Chart(DUMMY).mark_point(opacity=0).encode(
        x=alt.value(0), y=alt.value(0)).properties(
        width=B_SHIFT, height=20, view=alt.ViewBackground(strokeOpacity=0, fillOpacity=0))


cells_b = []
for r in range(4):
    cells_b.append(spacer())
    for c in range(3):
        idx = 3 * r + c
        extras = []
        if idx == 0:
            extras = [anchor(-101, -11),
                      text_layer("(b)", -88, 22, 26),
                      text_layer("Library II", 41, 26, 23.5, color="#ff0000")]
        if idx == 6:
            extras = [text_layer("Voltage (V)", -47, 2, 22, align="center", angle=270)]
        if idx == 10:
            extras = [text_layer("Specific Capacity (mAh/g)", 91.5, 157, 20.5, align="center")]
        ylab = (Y_LABELS_TOP if r == 0 else Y_LABELS) if c == 0 else None
        xlab = (X_LABELS_LAST if c == 2 else X_LABELS) if r == 3 else None
        cells_b.append(make_panel(B_PANELS[idx], WB, HB, B_COMP[idx], B_MARGIN[r][c],
                                  B_BASE[r][c], ylab, xlab, extras))
grid_b = alt.concat(*cells_b, columns=4, spacing=0, bounds="flush", align="each")

chart = alt.concat(grid_a, grid_b, columns=1, spacing=-5, align="none").configure_view(
    stroke="black", strokeWidth=2).properties(
    padding={"left": 0, "top": 0, "right": 0, "bottom": 2})

chart.save("out.html", embed_options={"renderer": "svg", "actions": False})
